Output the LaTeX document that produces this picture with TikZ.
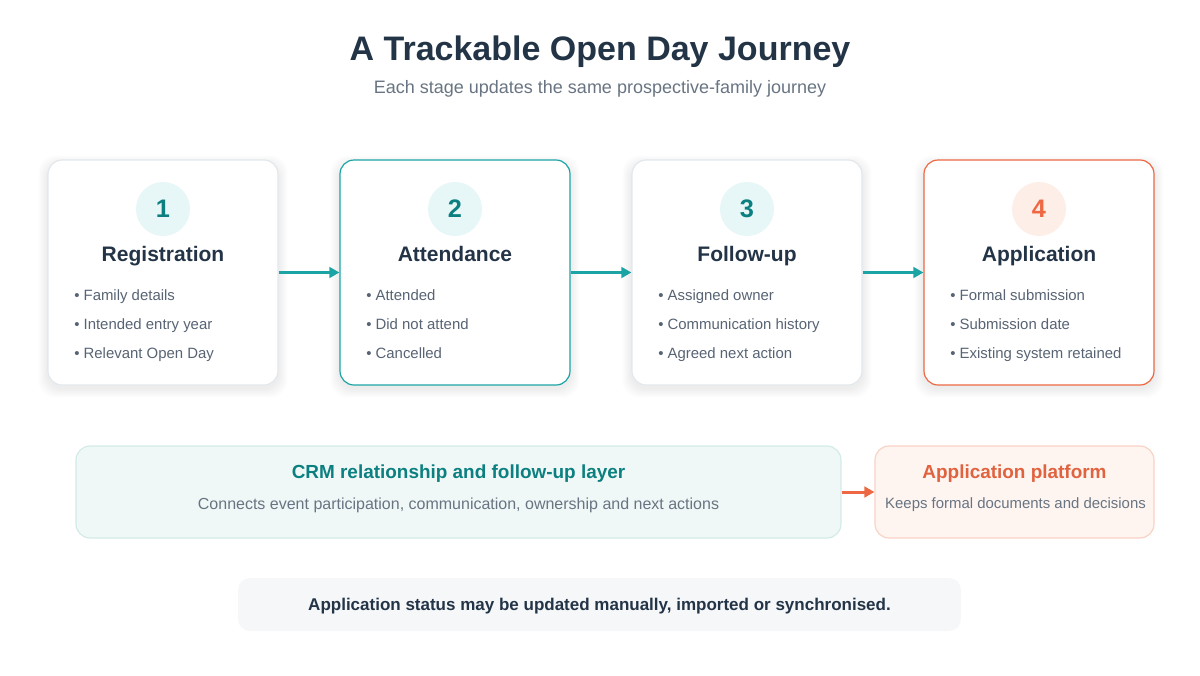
\documentclass[tikz,border=0pt]{standalone}
\usepackage{fontspec}
\setmainfont{Liberation Sans}
\usepackage{tikz}
\usetikzlibrary{
  arrows.meta, positioning, calc, backgrounds
}
\usepackage{xcolor}
\definecolor{jnavy}{RGB}{36,52,71}
\definecolor{jgray}{RGB}{104,116,130}
\definecolor{jtext}{RGB}{88,100,116}
\definecolor{jteal}{RGB}{28,164,164}
\definecolor{jtealdark}{RGB}{12,128,128}
\definecolor{jtealsoft}{RGB}{231,246,246}
\definecolor{jorange}{RGB}{238,104,68}
\definecolor{jorangedark}{RGB}{224,98,62}
\definecolor{jorangesoft}{RGB}{253,238,231}
\definecolor{jcardline}{RGB}{226,232,236}
\definecolor{jcrmfill}{RGB}{239,248,247}
\definecolor{jcrmline}{RGB}{211,235,232}
\definecolor{jappfill}{RGB}{254,245,241}
\definecolor{jappline}{RGB}{248,211,198}
\definecolor{jnotefill}{RGB}{245,247,249}

\tikzset{
  cardbox/.style={draw=jcardline, fill=white, rounded corners=10.5pt,
    line width=0.9pt, minimum width=172.5pt, minimum height=168.75pt},
  numdisc/.style={circle, fill=jtealsoft, minimum size=40.5pt, inner sep=0pt,
    text=jtealdark, font=\bfseries\fontsize{19}{21}\selectfont},
  cardtitle/.style={anchor=base, text=jnavy, font=\bfseries\fontsize{15.75}{18}\selectfont},
  itemtext/.style={anchor=base west, inner sep=0pt, text=jtext,
    font=\fontsize{11.2}{13}\selectfont},
  flowarrow/.style={draw=jteal, line width=2.25pt,
    -{Triangle[length=7.5pt,width=8pt]}},
  layerbox/.style={rounded corners=10.5pt, line width=0.9pt,
    minimum height=69pt},
  layertitle/.style={anchor=base, font=\bfseries\fontsize{14.2}{16}\selectfont},
  layertext/.style={anchor=base, text=jgray, font=\fontsize{12}{14}\selectfont}
}

\begin{document}
\begin{tikzpicture}[x=0.75pt, y=-0.75pt]
  \useasboundingbox (0,0) rectangle (1200,675);

  % heading
  \node[anchor=base, text=jnavy, font=\bfseries\fontsize{25.5}{29}\selectfont] (title) at (600,60.5) {A Trackable Open Day Journey};
  \node[anchor=base, text=jgray, font=\fontsize{13.5}{16}\selectfont] (subtitle) at (600,93) {Each stage updates the same prospective-family journey};

  % stage cards
  \node[cardbox] (reg) at (163,272.5) {};
  \node[cardbox, draw=jteal] (att) at (455,272.5) {};
  \node[cardbox] (fol) at (747,272.5) {};
  \node[cardbox, draw=jorange] (app) at (1039,272.5) {};

  % soft shadows under the cards
  \begin{scope}[on background layer]
    \foreach \c in {reg,att,fol,app}{
      \foreach \s in {1,...,9}{
        \fill[black, opacity=0.008, rounded corners=13pt]
          ($(\c.south west)+(-\s,\s+3)$) rectangle ($(\c.north east)+(\s,-\s+5)$);
      }
    }
  \end{scope}

  \node[numdisc] (n1) at (163,209) {1};
  \node[numdisc] (n2) at (455,209) {2};
  \node[numdisc] (n3) at (747,209) {3};
  \node[numdisc, fill=jorangesoft, text=jorange] (n4) at (1039,209) {4};

  \node[cardtitle] (t1) at (163,261) {Registration};
  \node[cardtitle] (t2) at (455,261) {Attendance};
  \node[cardtitle] (t3) at (747,261) {Follow-up};
  \node[cardtitle] (t4) at (1039,261) {Application};

  \node[itemtext] (r1) at (74,300.5) {• Family details};
  \node[itemtext] (r2) at (74,329.5) {• Intended entry year};
  \node[itemtext] (r3) at (74,358.5) {• Relevant Open Day};

  \node[itemtext] (a1) at (366,300.5) {• Attended};
  \node[itemtext] (a2) at (366,329.5) {• Did not attend};
  \node[itemtext] (a3) at (366,358.5) {• Cancelled};

  \node[itemtext] (f1) at (658,300.5) {• Assigned owner};
  \node[itemtext] (f2) at (658,329.5) {• Communication history};
  \node[itemtext] (f3) at (658,358.5) {• Agreed next action};

  \node[itemtext] (p1) at (950,300.5) {• Formal submission};
  \node[itemtext] (p2) at (950,329.5) {• Submission date};
  \node[itemtext] (p3) at (950,358.5) {• Existing system retained};

  \draw[flowarrow] (reg.east) -- (att.west);
  \draw[flowarrow] (att.east) -- (fol.west);
  \draw[flowarrow] (fol.east) -- (app.west);

  % system layers
  \node[layerbox, draw=jcrmline, fill=jcrmfill, minimum width=573.75pt] (crm) at (458.5,492) {};
  \node[layertitle, text=jtealdark] (crmtitle) at (458.5,478) {CRM relationship and follow-up layer};
  \node[layertext] (crmtext) at (458.5,509.5) {Connects event participation, communication, ownership and next actions};

  \node[layerbox, draw=jappline, fill=jappfill, minimum width=209.25pt] (plat) at (1014.5,492) {};
  \node[layertitle, text=jorangedark] (plattitle) at (1014.5,478) {Application platform};
  \node[layertext, font=\fontsize{11.2}{14}\selectfont] (plattext) at (1015.5,508.5) {Keeps formal documents and decisions};

  \draw[draw=jorange, line width=2.25pt, -{Triangle[length=7.5pt,width=8pt]}] (crm.east) -- (plat.west);

  % note
  \node[fill=jnotefill, rounded corners=9pt, minimum width=542.25pt, minimum height=39.75pt] (note) at (599.5,604.5) {};
  \node[anchor=base, text=jnavy, font=\bfseries\fontsize{12.75}{15}\selectfont] (notetext) at (599.5,610.5)
        {Application status may be updated manually, imported or synchronised.};
\end{tikzpicture}
\end{document}
